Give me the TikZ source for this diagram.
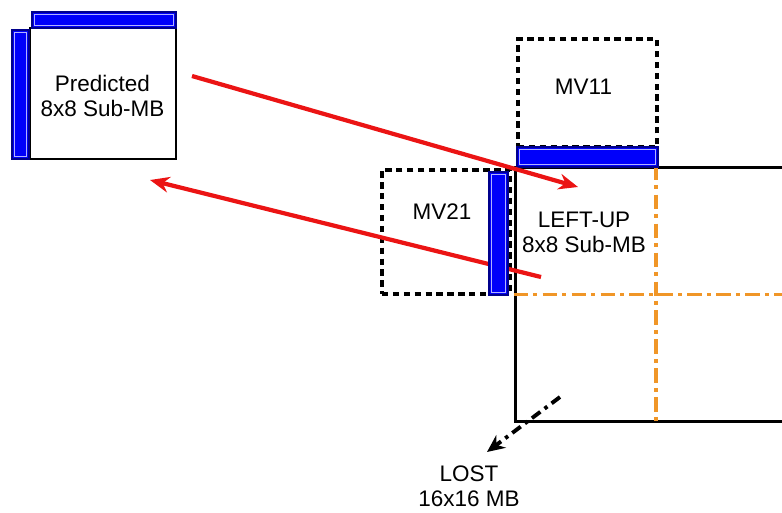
\documentclass[tikz,border=0pt]{standalone}
\usepackage{fontspec}
\setmainfont{Liberation Sans}
\usetikzlibrary{arrows.meta}
\definecolor{mborange}{RGB}{240,150,40}
\definecolor{barblue}{RGB}{0,0,250}
\definecolor{arrowred}{RGB}{235,20,20}

\tikzset{
  bluebar/.style={draw=blue!55!black, fill=barblue, line width=0.6pt, inner sep=0pt,
    path picture={\draw[blue!30, line width=0.5pt]
      ([shift={(1.3pt,-1.3pt)}]path picture bounding box.north west) rectangle
      ([shift={(-1.3pt,1.3pt)}]path picture bounding box.south east);}},
  mvbox/.style={draw, dash pattern=on 3.6pt off 2.6pt, line width=1.8pt, inner sep=0pt},
  subtext/.style={align=center, font=\fontsize{12.8}{14.2}\selectfont, inner sep=0pt},
  redarrow/.style={draw=arrowred, line width=2.4pt, -{Stealth[length=11pt,width=9pt]}},
  splitline/.style={mborange, line width=2.2pt, dash pattern=on 8pt off 3pt on 2.5pt off 3pt}
}

\begin{document}
\begin{tikzpicture}[x=0.02cm, y=-0.02cm]
\useasboundingbox (0,0) rectangle (782,512);
\clip (0,0) rectangle (782,512);

% neighbouring motion vector blocks
\node[mvbox, minimum width=2.78cm, minimum height=2.16cm] (mv11) at (587.5,93) {};
\node[subtext] (mv11text) at (583.5,86.5) {MV11};
\node[mvbox, minimum width=2.56cm, minimum height=2.48cm] (mv21) at (446,232) {};
\node[subtext] (mv21text) at (442,211.5) {MV21};

% lost macroblock
\node[draw, line width=1.7pt, minimum width=5.64cm, minimum height=5.1cm, inner sep=0pt] (mb) at (656,294.5) {};
\draw[splitline] (mb.north) -- (mb.south);
\draw[splitline] (mb.west) -- (mb.east);
\node[subtext] (lutext) at (584,232) {LEFT-UP\\8x8 Sub-MB};

% arrow back to the predicted block
\coordinate (r2s) at (541,277);
\coordinate (r2e) at (150,180);
\draw[redarrow] (r2s) -- (r2e);

% border pixels
\node[bluebar, minimum width=2.82cm, minimum height=0.4cm] (lutop) at (587.5,157) {};
\node[bluebar, minimum width=0.38cm, minimum height=2.46cm] (luleft) at (498.5,233.5) {};

% predicted sub-block
\node[draw, line width=1.3pt, minimum width=2.92cm, minimum height=2.62cm, inner sep=0pt] (pred) at (103,93.5) {};
\node[subtext] (predtext) at (102.5,96) {Predicted\\8x8 Sub-MB};
\node[bluebar, minimum width=2.88cm, minimum height=0.32cm] (predtop) at (104,20) {};
\node[bluebar, minimum width=0.34cm, minimum height=2.58cm] (predleft) at (20.5,94.5) {};

\coordinate (r1s) at (192,76);
\coordinate (r1e) at (578,187);
\draw[redarrow] (r1s) -- (r1e);

% lost label
\node[subtext] (lost) at (469,486) {LOST\\16x16 MB};
\coordinate (ls) at (560,397);
\coordinate (le) at (487,452);
\draw[line width=2.2pt, dash pattern=on 6pt off 3pt on 2pt off 3pt, -{Stealth[length=10pt,width=9pt]}] (ls) -- (le);
\end{tikzpicture}
\end{document}
